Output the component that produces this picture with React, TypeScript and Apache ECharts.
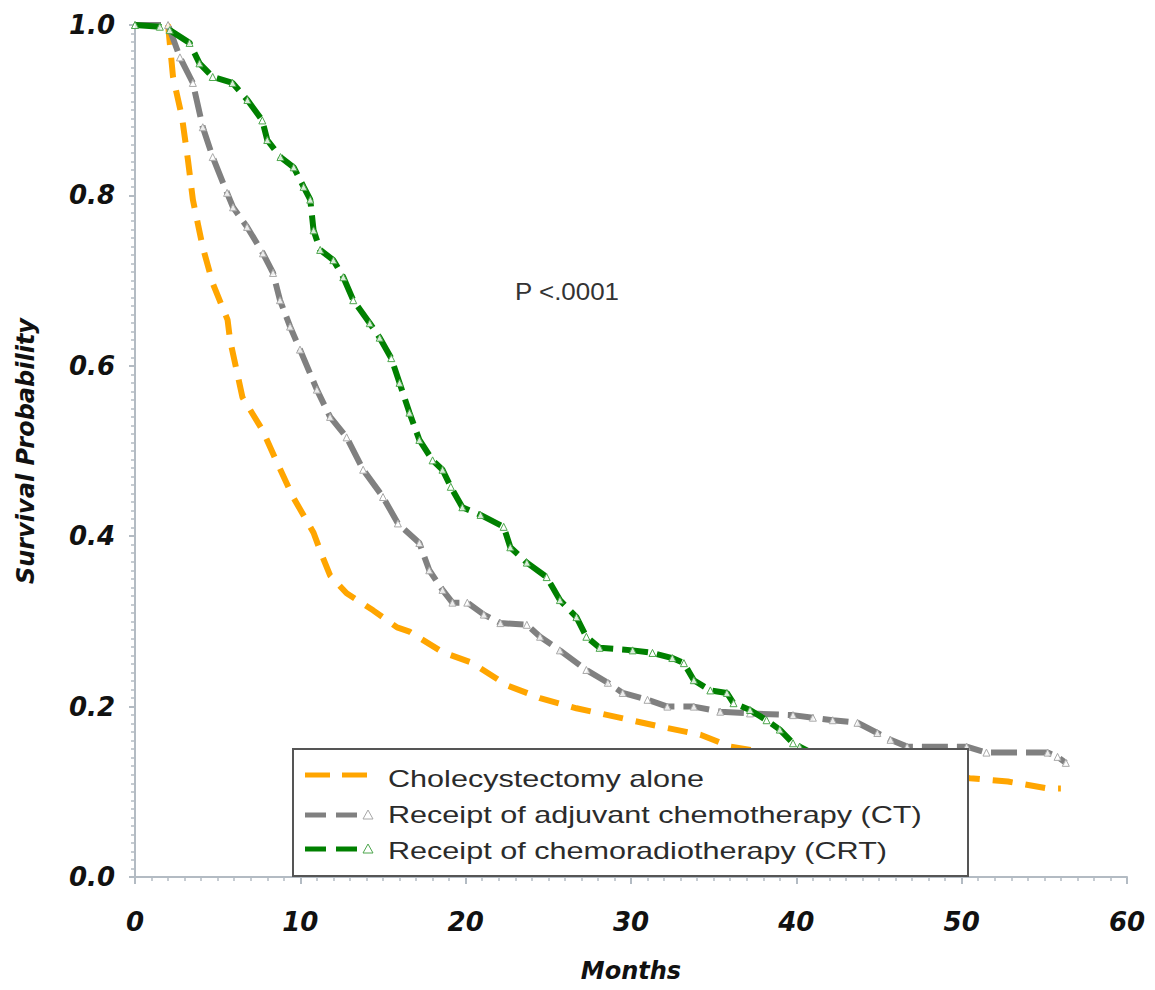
import React, { useEffect, useRef } from "react";
import * as echarts from "echarts";

// Kaplan-Meier style survival curves (months, survival probability)
const orangeMonths = [0, 2.0, 2.3, 2.84, 3.2, 3.5, 4.1, 4.7, 5.6, 5.75, 6.5, 7.7, 8.6, 9.56, 10.8, 11.3, 11.8, 12.8, 14.4, 15.85, 16.6, 18.6, 20.3, 20.9, 22.5, 24.5, 26.7, 29.3, 31.9, 34.2, 36.0, 40.0, 45.0, 50.5, 52.8, 55.2, 56.0];
const orangeSurv = [1.0, 1.0, 0.939, 0.892, 0.842, 0.795, 0.739, 0.697, 0.654, 0.63, 0.563, 0.525, 0.486, 0.446, 0.404, 0.378, 0.354, 0.333, 0.313, 0.293, 0.288, 0.264, 0.252, 0.245, 0.225, 0.21, 0.198, 0.187, 0.176, 0.167, 0.153, 0.14, 0.128, 0.116, 0.112, 0.104, 0.104];

const grayMonths = [0, 2.0, 2.72, 3.5, 4.1, 4.7, 5.57, 5.93, 6.78, 7.74, 8.35, 8.77, 9.38, 9.98, 11.0, 11.8, 12.8, 13.8, 15.0, 15.9, 17.2, 17.8, 18.6, 19.2, 20.1, 21.1, 22.1, 23.7, 24.5, 25.7, 27.3, 28.6, 29.5, 31.0, 32.2, 33.8, 35.4, 37.2, 39.8, 41.0, 42.2, 43.7, 44.9, 45.7, 46.7, 50.3, 51.5, 55.2, 55.8, 56.3];
const graySurv = [1.0, 1.0, 0.962, 0.932, 0.88, 0.845, 0.803, 0.786, 0.763, 0.732, 0.709, 0.677, 0.646, 0.619, 0.572, 0.54, 0.516, 0.478, 0.446, 0.415, 0.392, 0.36, 0.337, 0.322, 0.322, 0.308, 0.298, 0.296, 0.282, 0.266, 0.243, 0.228, 0.216, 0.208, 0.2, 0.2, 0.194, 0.192, 0.19, 0.187, 0.184, 0.181, 0.169, 0.161, 0.153, 0.153, 0.146, 0.146, 0.141, 0.134];

const greenMonths = [0, 1.5, 2.1, 3.3, 3.9, 4.7, 5.9, 6.8, 7.7, 8.0, 8.8, 9.6, 10.2, 10.6, 10.8, 11.2, 12.0, 12.6, 13.2, 14.2, 14.8, 15.5, 16.0, 16.6, 17.2, 18.0, 18.6, 19.1, 19.8, 20.9, 22.3, 22.7, 23.7, 24.9, 25.7, 26.7, 27.3, 28.1, 30.1, 31.3, 32.5, 33.2, 33.8, 34.8, 35.8, 36.2, 37.2, 38.2, 39.0, 39.8, 40.2, 41.5, 43.0, 44.5];
const greenSurv = [1.0, 0.998, 0.994, 0.979, 0.955, 0.939, 0.932, 0.912, 0.888, 0.865, 0.845, 0.833, 0.81, 0.795, 0.759, 0.736, 0.724, 0.704, 0.677, 0.65, 0.633, 0.609, 0.58, 0.545, 0.513, 0.489, 0.478, 0.458, 0.434, 0.425, 0.411, 0.387, 0.369, 0.352, 0.325, 0.305, 0.282, 0.269, 0.266, 0.263, 0.257, 0.251, 0.231, 0.219, 0.216, 0.204, 0.196, 0.184, 0.173, 0.157, 0.153, 0.14, 0.128, 0.12];

const seriesNames = [
  "Cholecystectomy alone",
  "Receipt of adjuvant chemotherapy (CT)",
  "Receipt of chemoradiotherapy (CRT)",
];
const pValueText = "P <.0001";
const xTitle = "Months";
const yTitle = "Survival Probability";

const ORANGE = "#FFA500";
const GRAY = "#808080";
const GREEN = "#008000";

const zip = (xs: number[], ys: number[]) => xs.map((x, i) => [x, ys[i]]);

export default function App() {
  const ref = useRef<HTMLDivElement>(null);
  useEffect(() => {
    if (!ref.current) return;
    const chart = echarts.init(ref.current, null, { renderer: "svg" });
    const axisColor = "#b3bbc3";
    const Z = 100;
    const tickFont = {
      fontFamily: "DejaVu Sans",
      fontWeight: "bold" as const,
      fontStyle: "italic" as const,
      fontSize: 26,
      color: "#111",
    };
    const legendText = (txt: string, y: number) => ({
      type: "text",
      z: Z + 1,
      x: 388,
      y,
      scaleX: 1.33,
      style: {
        text: txt,
        x: 0,
        y: 0,
        fill: "#2b2b2b",
        font: "23px 'Liberation Sans', Arial, sans-serif",
        textVerticalAlign: "middle",
        textAlign: "left",
      },
    });
    const tri = (cx: number, cy: number, color: string) => ({
      type: "polygon",
      z: Z + 1,
      shape: { points: [[cx - 5, cy + 4], [cx + 5, cy + 4], [cx, cy - 5]] },
      style: { fill: "#fff", stroke: color, lineWidth: 1 },
    });
    const dashLine = (x1: number, x2: number, y: number, color: string) => ({
      type: "line",
      z: Z + 1,
      shape: { x1, y1: y, x2, y2: y },
      style: { stroke: color, lineWidth: 5 },
    });

    chart.setOption({
      animation: false,
      backgroundColor: "#fff",
      grid: { left: 135, right: 28, top: 25, bottom: 113 },
      xAxis: {
        type: "value",
        min: 0,
        max: 60,
        interval: 10,
        offset: 6,
        name: xTitle,
        nameLocation: "middle",
        nameGap: 76,
        nameTextStyle: {
          fontFamily: "DejaVu Sans",
          fontWeight: "bold",
          fontStyle: "italic",
          fontSize: 24,
          color: "#111",
        },
        axisLine: { show: true, lineStyle: { color: axisColor, width: 2 } },
        axisTick: { show: true, length: 7, lineStyle: { color: axisColor, width: 2 } },
        minorTick: { show: true, splitNumber: 10, length: 4, lineStyle: { color: axisColor, width: 1.5 } },
        splitLine: { show: false },
        axisLabel: { ...tickFont, margin: 26 },
      },
      yAxis: {
        type: "value",
        min: 0,
        max: 1,
        interval: 0.2,
        offset: 2,
        name: yTitle,
        nameLocation: "middle",
        nameGap: 95,
        nameTextStyle: {
          fontFamily: "DejaVu Sans",
          fontWeight: "bold",
          fontStyle: "italic",
          fontSize: 24,
          color: "#111",
        },
        axisLine: { show: true, lineStyle: { color: axisColor, width: 2 } },
        axisTick: { show: true, length: 6, lineStyle: { color: axisColor, width: 2 } },
        minorTick: { show: true, splitNumber: 20, length: 4, lineStyle: { color: axisColor, width: 1.5 } },
        splitLine: { show: false },
        axisLabel: { ...tickFont, margin: 18, formatter: (v: number) => v.toFixed(1) },
      },
      series: [
        {
          name: seriesNames[0],
          type: "line",
          data: zip(orangeMonths, orangeSurv),
          showSymbol: false,
          lineStyle: { color: ORANGE, width: 6, type: [20, 13] },
          itemStyle: { color: ORANGE },
          z: 2,
        },
        {
          name: seriesNames[1],
          type: "line",
          data: zip(grayMonths, graySurv),
          symbol: "triangle",
          symbolSize: 7,
          itemStyle: { color: "rgba(255,255,255,0.85)", borderColor: "#a8a8a8", borderWidth: 1 },
          lineStyle: { color: GRAY, width: 6, type: [26, 9] },
          z: 3,
        },
        {
          name: seriesNames[2],
          type: "line",
          data: zip(greenMonths, greenSurv),
          symbol: "triangle",
          symbolSize: 7,
          itemStyle: { color: "rgba(255,255,255,0.85)", borderColor: "#4da64d", borderWidth: 1 },
          lineStyle: { color: GREEN, width: 6, type: [26, 9] },
          z: 4,
        },
      ],
      graphic: [
        {
          type: "text",
          z: Z,
          x: 515,
          y: 291,
          scaleX: 1.08,
          style: {
            text: pValueText,
            x: 0,
            y: 0,
            fill: "#333",
            font: "24px 'Liberation Sans', Arial, sans-serif",
            textVerticalAlign: "middle",
          },
        },
        {
          type: "rect",
          z: Z,
          shape: { x: 293, y: 749, width: 675, height: 127 },
          style: { fill: "#fff", stroke: "#555", lineWidth: 2 },
        },
        dashLine(305, 330, 775, ORANGE),
        dashLine(342, 367, 775, ORANGE),
        legendText(seriesNames[0], 779),
        dashLine(305, 326, 815, GRAY),
        dashLine(336, 357, 815, GRAY),
        tri(368, 815, "#a8a8a8"),
        legendText(seriesNames[1], 815),
        dashLine(305, 326, 849, GREEN),
        dashLine(336, 357, 849, GREEN),
        tri(368, 849, "#4da64d"),
        legendText(seriesNames[2], 851),
      ],
    });
    return () => chart.dispose();
  }, []);
  return (
    <div
      ref={ref}
      style={{ position: "fixed", left: 0, top: 0, width: 1155, height: 990, background: "#fff" }}
    />
  );
}
